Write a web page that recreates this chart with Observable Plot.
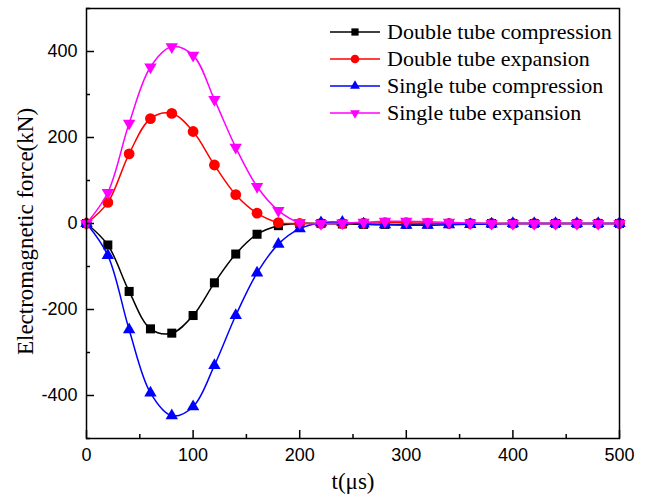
<!DOCTYPE html>
<html>
<head>
<meta charset="utf-8">
<script src="https://cdn.jsdelivr.net/npm/d3@7"></script>
<script src="https://cdn.jsdelivr.net/npm/@observablehq/plot@0.6"></script>
<style>
  html, body { margin: 0; padding: 0; background: #fff; }
</style>
</head>
<body>
<div id="chart"></div>
<script>
const times = [0, 20, 40, 60, 80, 100, 120, 140, 160, 180, 200, 220, 240, 260, 280, 300, 320, 340, 360, 380, 400, 420, 440, 460, 480, 500];
const doubleCompression = [0, -50, -158, -245, -255, -214, -138, -71, -25, -5, 0, 0, -1, -2, -2, -2, -1, 0, 0, 0, 0, 0, 0, 0, 0, 0];
const doubleExpansion = [0, 49, 162, 244, 256, 214, 136, 67, 24, 2, 0, 0, 0, 1, 2, 2, 1, 0, 0, 0, 0, 0, 0, 0, 0, 0];
const singleCompression = [0, -74, -247, -394, -447, -426, -330, -214, -115, -48, -12, 2, 3, -1, -3, -4, -4, -3, -2, -1, 0, 0, 0, 0, 0, 0];
const singleExpansion = [0, 72, 233, 364, 411, 391, 288, 177, 86, 30, 2, 0, 1, 3, 5, 5, 4, 3, 1, 0, 0, 0, 0, 0, 0, 0];

const seriesNames = ["Double tube compression", "Double tube expansion", "Single tube compression", "Single tube expansion"];
const seriesColors = ["#000000", "#ff0000", "#0000ff", "#ff00ff"];
const seriesValues = [doubleCompression, doubleExpansion, singleCompression, singleExpansion];

const xMajorTicks = [0, 100, 200, 300, 400, 500];
const xMinorTicks = [50, 150, 250, 350, 450];
const yMajorTicks = [-400, -200, 0, 200, 400];
const yMinorTicks = [-500, -300, -100, 100, 300, 500];

const xLabel = "t(μs)";
const yLabel = "Electromagnetic force(kN)";

const sqrt3 = Math.sqrt(3);
const triangleDown = {
  draw(context, size) {
    const y = -Math.sqrt(size / (sqrt3 * 3));
    context.moveTo(0, -y * 2);
    context.lineTo(-sqrt3 * y, y);
    context.lineTo(sqrt3 * y, y);
    context.closePath();
  }
};
const seriesSymbols = ["square", "circle", "triangle", triangleDown];
const seriesR = [5.1, 5.4, 4.6, 4.6];

const W = 648, H = 504;
const mL = 86, mR = 29, mT = 8, mB = 66;
const plotW = W - mL - mR, plotH = H - mT - mB;
const serif = "'Liberation Serif', 'Times New Roman', serif";
const sans = "'Liberation Sans', Arial, sans-serif";

const marks = [];
seriesValues.forEach((vals, i) => {
  const data = times.map((t, j) => ({t, v: vals[j]}));
  marks.push(Plot.line(data, {x: "t", y: "v", stroke: seriesColors[i], strokeWidth: 1.5, curve: "catmull-rom"}));
  marks.push(Plot.dot(data, {x: "t", y: "v", fill: seriesColors[i], stroke: "none", symbol: seriesSymbols[i], r: seriesR[i]}));
});

const chart = Plot.plot({
  width: W, height: H,
  marginLeft: mL, marginRight: mR, marginTop: mT, marginBottom: mB,
  style: {fontFamily: sans, background: "#fff", color: "#000"},
  x: {domain: [0, 500], label: null},
  y: {domain: [-500, 500], label: null},
  marks: [
    ...marks,
    Plot.frame({stroke: "#000", strokeWidth: 1.5}),
    Plot.tickX(xMajorTicks, {x: d => d, stroke: "#000", strokeWidth: 1.5, insetTop: plotH - 8}),
    Plot.tickX(xMinorTicks, {x: d => d, stroke: "#000", strokeWidth: 1.5, insetTop: plotH - 4}),
    Plot.tickY(yMajorTicks, {y: d => d, stroke: "#000", strokeWidth: 1.5, insetRight: plotW - 8}),
    Plot.tickY(yMinorTicks, {y: d => d, stroke: "#000", strokeWidth: 1.5, insetRight: plotW - 4}),
    Plot.axisX({ticks: xMajorTicks, tickSize: 0, tickPadding: 10, fontSize: 18, fontFamily: sans, fill: "#000", label: null, tickFormat: d => String(d)}),
    Plot.axisY({ticks: yMajorTicks, tickSize: 0, tickPadding: 9, fontSize: 18, fontFamily: sans, fill: "#000", label: null, tickFormat: d => String(d)}),
    Plot.text([xLabel], {text: d => d, frameAnchor: "bottom", textAnchor: "middle", dy: 50, fontSize: 23, fontFamily: serif, fill: "#000"}),
    Plot.text([yLabel], {text: d => d, frameAnchor: "left", textAnchor: "middle", rotate: -90, dx: -61, dy: 8, fontSize: 23, fontFamily: serif, fill: "#000"})
  ]
});
document.getElementById("chart").appendChild(chart);

// Legend inside plot area (top-right)
const svg = d3.select(chart);
const lg = svg.append("g").attr("class", "legend");
const rowY = [32, 59, 86, 113];
seriesNames.forEach((name, i) => {
  const g = lg.append("g").attr("transform", `translate(0,${rowY[i]})`);
  g.append("line").attr("x1", 330).attr("x2", 380).attr("y1", 0).attr("y2", 0)
    .attr("stroke", seriesColors[i]).attr("stroke-width", 1.5);
  const sym = typeof seriesSymbols[i] === "string"
    ? {square: d3.symbolSquare, circle: d3.symbolCircle, triangle: d3.symbolTriangle}[seriesSymbols[i]]
    : seriesSymbols[i];
  const rr = seriesR[i] * 0.8;
  g.append("path").attr("d", d3.symbol(sym, rr * rr * Math.PI)())
    .attr("transform", "translate(355,0)").attr("fill", seriesColors[i]);
  g.append("text").attr("x", 387).attr("y", 7).attr("font-family", serif)
    .attr("text-anchor", "start")
    .attr("font-size", 22).attr("fill", "#000").text(name);
});
</script>
</body>
</html>
